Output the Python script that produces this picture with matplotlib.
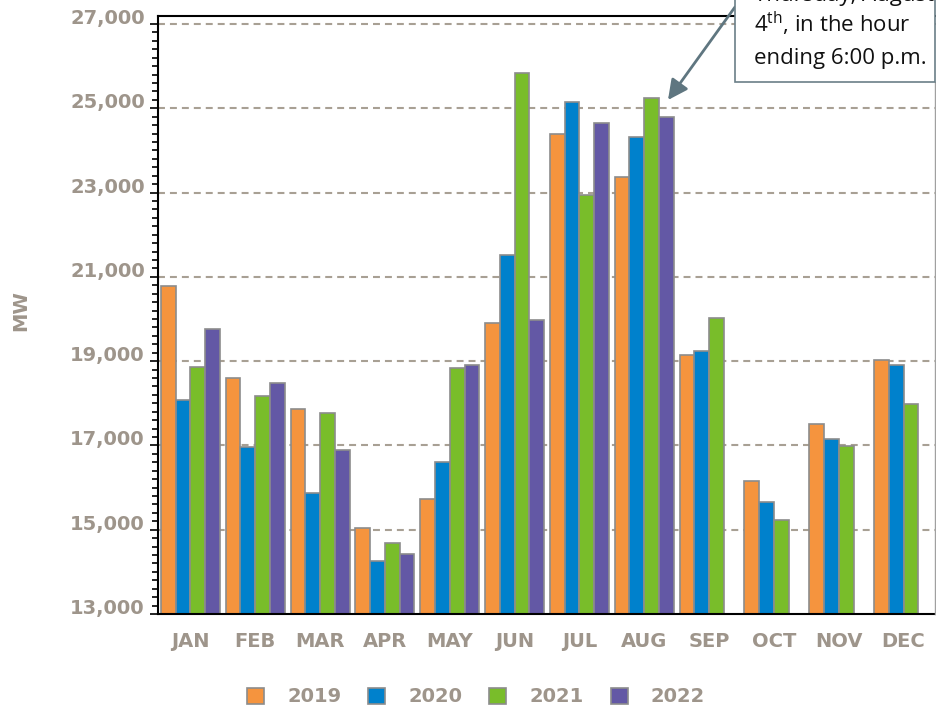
import matplotlib
matplotlib.use("Agg")
import matplotlib.pyplot as plt
from matplotlib.patches import Rectangle
from matplotlib.lines import Line2D
from matplotlib.ticker import MultipleLocator, FuncFormatter
import numpy as np

# monthly peak demand (MW)
months = ["JAN", "FEB", "MAR", "APR", "MAY", "JUN",
          "JUL", "AUG", "SEP", "OCT", "NOV", "DEC"]
years = ["2019", "2020", "2021", "2022"]
peak_2019 = [20790, 18590, 17870, 15050, 15740, 19910,
             24380, 23360, 19150, 16150, 17510, 19030]
peak_2020 = [18080, 16960, 15870, 14260, 16600, 21510,
             25160, 24330, 19250, 15650, 17150, 18900]
peak_2021 = [18850, 18180, 17770, 14680, 18840, 25830,
             22950, 25250, 20020, 15240, 16990, 17980]
peak_2022 = [19760, 18480, 16900, 14420, 18910, 19980,
             24640, 24790, np.nan, np.nan, np.nan, np.nan]
series = [peak_2019, peak_2020, peak_2021, peak_2022]
colors = ["#F5943E", "#0081CC", "#79BD2A", "#6358A5"]

note_lines = ["Thursday, August", "4$^{\\mathrm{th}}$, in the hour", "ending 6:00 p.m."]

grey = "#9E958B"
plt.rcParams["mathtext.fontset"] = "custom"
plt.rcParams["mathtext.rm"] = "Open Sans"
plt.rcParams["lines.scale_dashes"] = False

W, H = 937, 708
fig = plt.figure(figsize=(W / 100, H / 100), dpi=100)
ax = fig.add_axes([158 / W, 1 - 614 / H, (936 - 158) / W, (614 - 16) / H])

x = np.arange(len(months))
bw = 0.228
for i, (vals, col, yr) in enumerate(zip(series, colors, years)):
    ax.bar(x + (i - 1.5) * bw, vals, width=bw, color=col, edgecolor="#8C8C8C",
           linewidth=1.2, label=yr, zorder=2)

ax.set_xlim(-0.5, 11.5)
ax.set_ylim(13000, 27190)
ax.set_yticks(np.arange(13000, 27001, 2000))
ax.yaxis.set_minor_locator(MultipleLocator(200))
ax.yaxis.set_major_formatter(FuncFormatter(lambda v, p: f"{int(v):,}"))
ax.set_xticks(x)
ax.set_xticklabels(months)

# dashed grid (not at the bottom line)
for gy in range(15000, 27001, 2000):
    ax.axhline(gy, color="#A8A094", lw=1.5, linestyle=(0, (5, 3.6)), zorder=1)

for s in ["left", "bottom", "top"]:
    ax.spines[s].set_linewidth(1.5)
    ax.spines[s].set_color("black")
ax.spines["right"].set_visible(False)

ax.tick_params(axis="y", which="major", length=6, width=1.2, pad=3.5,
               labelsize=14, labelcolor=grey)
ax.tick_params(axis="y", which="minor", length=4, width=1.2)
ax.tick_params(axis="x", length=0, pad=13, labelsize=14, labelcolor=grey)
for lab in ax.get_yticklabels() + ax.get_xticklabels():
    lab.set_fontweight("bold")
for lab in ax.get_yticklabels():
    lab.set_verticalalignment("baseline")

fig.text(21 / W, 1 - 311 / H, "MW", rotation=90, ha="center", va="center",
         fontsize=14, fontweight="bold", color=grey)

leg = fig.legend(loc="center", bbox_to_anchor=(476 / W, 1 - 697 / H), ncol=4,
                 frameon=False, handlelength=0.875, handleheight=0.875,
                 handletextpad=1.18, columnspacing=1.39,
                 prop={"size": 14, "weight": "bold"})
for t in leg.get_texts():
    t.set_color(grey)

# right border of the plot area
fig.add_artist(Line2D([935.5 / W, 935.5 / W], [1 - 82 / H, 1 - 614 / H],
                      transform=fig.transFigure, color="#A0A0A0", lw=1.0, zorder=4))

# callout box, cut off at the top of the picture
box = Rectangle((735 / W, 1 - 82 / H), (935.5 - 735) / W, 120 / H,
                transform=fig.transFigure, facecolor="white", edgecolor="#6B7F88",
                lw=1.2, zorder=5, clip_on=False)
fig.add_artist(box)
for k, line in enumerate(note_lines):
    fig.text(754 / W, 1 - (1 + 31.6 * k) / H, line, ha="left", va="baseline",
             fontsize=16, family="Open Sans", color="#111111", zorder=6)

ax.annotate("", xy=(668, H - 100), xycoords="figure pixels",
            xytext=(735, H - 7), textcoords="figure pixels",
            arrowprops=dict(arrowstyle="-|>,head_length=0.6,head_width=0.3",
                            color="#5F7680", lw=2, mutation_scale=20,
                            shrinkA=0, shrinkB=0),
            annotation_clip=False)

fig.savefig("out.png", dpi=100)
